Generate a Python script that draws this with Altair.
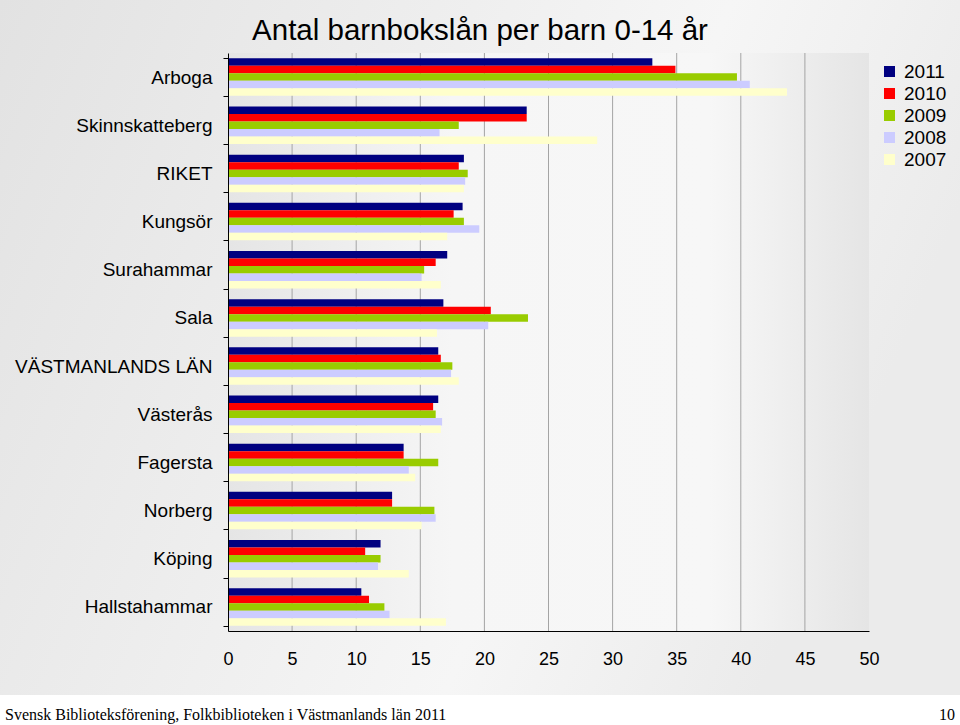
import altair as alt
import pandas as pd

categories = ["Arboga", "Skinnskatteberg", "RIKET", "Kungsör", "Surahammar", "Sala",
              "VÄSTMANLANDS LÄN", "Västerås", "Fagersta", "Norberg", "Köping", "Hallstahammar"]
years = ["2011", "2010", "2009", "2008", "2007"]
colors = ["#000080", "#FF0000", "#99CC00", "#CCCCFF", "#FFFFCC"]

v2011 = [33.1, 23.3, 18.4, 18.3, 17.1, 16.8, 16.4, 16.4, 13.7, 12.8, 11.9, 10.4]
v2010 = [34.9, 23.3, 18.0, 17.6, 16.2, 20.5, 16.6, 16.0, 13.7, 12.8, 10.7, 11.0]
v2009 = [39.7, 18.0, 18.7, 18.4, 15.3, 23.4, 17.5, 16.2, 16.4, 16.1, 11.9, 12.2]
v2008 = [40.7, 16.5, 18.5, 19.6, 15.1, 20.3, 17.4, 16.7, 14.1, 16.2, 11.7, 12.6]
v2007 = [43.6, 28.8, 18.4, 17.1, 16.6, 16.3, 18.0, 16.6, 14.6, 15.1, 14.1, 17.0]

x_ticks = [0, 5, 10, 15, 20, 25, 30, 35, 40, 45, 50]
grid_ticks = [5, 10, 15, 20, 25, 30, 35, 40, 45]

title_text = "Antal barnbokslån per barn 0-14 år"
footer_text = "Svensk Biblioteksförening, Folkbiblioteken i Västmanlands län 2011"
page_text = "10"

series = {"2011": v2011, "2010": v2010, "2009": v2009, "2008": v2008, "2007": v2007}
rows = []
for y in years:
    for c, v in zip(categories, series[y]):
        rows.append({"kommun": c, "year": y, "value": v})
df = pd.DataFrame(rows)

W, H = 641, 578
PL, PT = 228, 53

one = pd.DataFrame({"t": [title_text], "f": [footer_text], "p": [page_text]})

outer_bg = alt.Chart(one).mark_rect(
    color=alt.Gradient(
        gradient="linear",
        stops=[alt.GradientStop(color="#e2e2e2", offset=0),
               alt.GradientStop(color="#f6f6f6", offset=0.7),
               alt.GradientStop(color="#ebebeb", offset=1)],
        x1=0, x2=1, y1=0, y2=0.3)
).encode(x=alt.value(-PL), x2=alt.value(960 - PL), y=alt.value(-PT), y2=alt.value(695 - PT))

plot_bg = alt.Chart(one).mark_rect(
    color=alt.Gradient(
        gradient="linear",
        stops=[alt.GradientStop(color="#e5e5e5", offset=0),
               alt.GradientStop(color="#f6f6f6", offset=0.35),
               alt.GradientStop(color="#f7f7f7", offset=0.75),
               alt.GradientStop(color="#e5e5e5", offset=1)],
        x1=0, x2=1, y1=0, y2=0)
).encode(x=alt.value(0), x2=alt.value(W), y=alt.value(0), y2=alt.value(H))

xscale = alt.Scale(domain=[0, 50], nice=False)

grid = alt.Chart(pd.DataFrame({"g": grid_ticks})).mark_rule(color="#a4a4a4", strokeWidth=1).encode(
    x=alt.X("g:Q", scale=xscale),
    y=alt.value(0), y2=alt.value(H)
)

bars = alt.Chart(df).mark_bar().encode(
    x=alt.X("value:Q", scale=xscale,
            axis=alt.Axis(values=x_ticks, title=None, grid=False, ticks=False, tickSize=0,
                          labelFontSize=18, labelFont="Liberation Sans", labelColor="#000",
                          labelPadding=19, domainColor="#000", domainWidth=1, zindex=1,
                          labelFlush=False)),
    y=alt.Y("kommun:N", sort=categories,
            scale=alt.Scale(paddingInner=0.22, paddingOuter=0.11),
            axis=alt.Axis(title=None, labelFontSize=19, labelFont="Liberation Sans",
                          labelColor="#000", tickSize=5, tickColor="#000", tickBand="extent",
                          labelPadding=11, domainColor="#000", zindex=1, labelLimit=300)),
    yOffset=alt.YOffset("year:N", sort=years, scale=alt.Scale(paddingInner=0, paddingOuter=0)),
    color=alt.Color("year:N", sort=years,
                    scale=alt.Scale(domain=years, range=colors),
                    legend=alt.Legend(title=None, orient="none", legendX=652, legendY=9,
                                      symbolType="square", symbolSize=121, symbolStrokeWidth=0,
                                      symbolOpacity=1, labelFontSize=19, labelFont="Liberation Sans",
                                      labelColor="#000", rowPadding=2, labelOffset=5, zindex=1))
)

title = alt.Chart(one).mark_text(fontSize=29.5, font="Liberation Sans", color="#000",
                                 align="center", baseline="alphabetic").encode(
    text="t:N", x=alt.value(480 - PL), y=alt.value(40 - PT))

footer = alt.Chart(one).mark_text(fontSize=16, font="Liberation Serif", color="#000",
                                  align="left", baseline="alphabetic").encode(
    text="f:N", x=alt.value(5 - PL), y=alt.value(720 - PT))

page = alt.Chart(one).mark_text(fontSize=16, font="Liberation Serif", color="#000",
                                align="right", baseline="alphabetic").encode(
    text="p:N", x=alt.value(955 - PL), y=alt.value(720 - PT))

chart = alt.layer(outer_bg, plot_bg, grid, bars, title, footer, page).properties(
    width=W, height=H,
    autosize=alt.AutoSizeParams(type="none"),
    padding={"left": PL, "top": PT, "right": 960 - PL - W, "bottom": 725 - PT - H},
    background="#ffffff"
).configure_view(stroke="#000", strokeWidth=1)

chart.save("out.html", embed_options={"renderer": "svg", "actions": False})
